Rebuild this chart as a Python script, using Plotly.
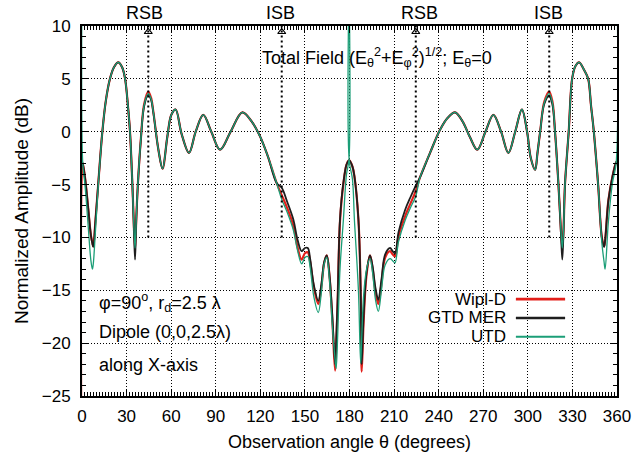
import plotly.graph_objects as go

# ---------------- data ----------------
theta = [0, 0.5, 2, 4, 6, 7.0, 7.6, 9.0, 11.0, 13.7, 16.0, 18.8, 21.5, 24.4, 27.0, 29.0, 31.0, 32.3, 33.9,
         35.0, 35.7, 36.5, 37.5, 39.6, 41.8, 44.6, 46.5, 48.0, 51.4, 54.2, 57.4, 60.1, 63.0, 67.0, 72.0,
         76.5, 81.6, 87.0, 92.9, 100.0, 107.9, 114.0, 119.8, 125.0, 131.0, 134.4, 138.0, 142.2, 145.0,
         147.8, 150.0, 151.9, 153.5, 156.0, 159.0, 161.0, 163.0, 164.7, 166.5, 168.5, 170.3, 171.0, 172.0,
         173.6, 175.9, 178.0, 179.6, 179.7, 179.8, 182.0, 183.3, 186.0, 187.5, 188.2, 189.5, 191.5, 193.8,
         195.5, 197.5, 199.4, 201.5, 204.0, 207.3, 209.0, 210.6, 213.0, 217.4, 221.0, 224.6, 227.5, 234.2,
         241.0, 246.0, 251.0, 256.0, 261.0, 266.0, 271.5, 276.8, 282.0, 286.9, 291.5, 296.0, 299.5, 302.0,
         304.9, 306.5, 308.3, 311.0, 314.3, 316.5, 318.3, 320.6, 322.4, 323.2, 324.0, 325.0, 327.5, 329.8,
         332.0, 334.5, 338.0, 340.6, 342.5, 344.4, 347.3, 349.8, 351.3, 352.0, 354.2, 357.0, 359.4, 360.0]

gtd_mer = [-2.8, -3.0, -4.3, -7.0, -9.8, -10.6, -10.9, -8.5, -4.8, 0.0, 2.9, 5.0, 6.1, 6.56, 6.1, 5.0, 2.3, 0.0, -5.0,
           -9.5, -12.1, -8.5, -5.3, -0.75, 2.4, 3.5, 3.0, 1.8, -1.7, -3.5, -0.5, 1.6, 2.1, -0.2, -2.0,
           0.0, 1.6, 0.0, -1.7, 0.0, 1.83, 1.0, -0.44, -2.3, -4.86, -5.3, -6.6, -8.3, -10.2,
           -11.3, -11.0, -11.0, -12.0, -14.5, -16.0, -14.5, -12.3, -11.7, -13.5, -17.5, -22.0, -20.0, -16.0,
           -8.3, -4.8, -3.1, -2.7, -2.7, -2.7, -3.3, -4.2, -8.3, -15.0, -22.0, -17.5, -13.3, -11.7,
           -12.7, -14.8, -15.9, -14.0, -11.6, -11.0, -11.3, -11.5, -9.5, -7.4, -6.2, -5.1, -4.3, -2.0,
           0.2, 1.3, 1.83, 1.0, -0.5, -1.7, 0.0, 1.6, 0.0, -2.0, 0.0, 2.1, 0.0, -2.5,
           -3.6, -2.0, 0.0, 2.6, 3.4, 2.6, 0.0, -5.0, -10.0, -12.1, -9.5, -5.0, 0.0, 5.0,
           6.2, 6.56, 5.8, 5.0, 2.5, 0.0, -5.0, -10.0, -10.9, -10.3, -6.5, -4.2, -2.9, -2.8]

wipl_d = [-40.0, -3.0, -4.3, -7.0, -9.8, -10.5, -10.85, -8.5, -4.8, 0.0, 2.9, 5.0, 6.1, 6.56, 6.1, 5.0, 2.3, 0.0, -5.0,
          -9.3, -11.1, -8.3, -5.2, -0.7, 2.6, 3.8, 3.2, 1.9, -1.7, -3.5, -0.5, 1.6, 2.1, -0.2, -2.0,
          0.0, 1.6, 0.0, -1.7, 0.0, 1.83, 1.0, -0.44, -2.3, -4.86, -6.0, -7.2, -8.9, -10.9,
          -12.1, -11.5, -11.4, -12.3, -14.7, -16.3, -14.8, -12.4, -11.7, -13.6, -18.0, -22.6, -20.5, -16.2,
          -8.5, -4.9, -3.1, -2.7, -2.7, -2.7, -3.3, -4.2, -8.3, -15.0, -22.7, -18.0, -13.5, -11.7,
          -12.9, -15.2, -16.3, -14.4, -11.9, -11.3, -11.6, -11.8, -9.9, -8.0, -6.8, -5.6, -4.3, -2.0,
          0.2, 1.3, 1.83, 1.0, -0.5, -1.7, 0.0, 1.6, 0.0, -2.0, 0.0, 2.1, 0.0, -2.5,
          -3.6, -2.0, 0.0, 2.8, 3.8, 2.9, 0.0, -5.0, -9.6, -11.0, -9.3, -5.0, 0.0, 5.0,
          6.2, 6.56, 5.8, 5.0, 2.5, 0.0, -5.0, -10.0, -10.85, -10.3, -6.5, -4.2, -2.9, -2.8]

utd = [15.0, -3.0, -5.0, -8.6, -12.2, -13.0, -12.5, -9.5, -5.0, 0.0, 2.9, 5.0, 6.1, 6.56, 6.1, 5.0, 2.3, 0.0, -5.0,
       -9.3, -11.0, -8.3, -5.2, -0.7, 2.5, 3.6, 3.1, 1.85, -1.7, -3.5, -0.5, 1.6, 2.1, -0.2, -2.0,
       0.0, 1.6, 0.0, -1.7, 0.0, 1.83, 1.0, -0.44, -2.3, -4.86, -6.4, -7.6, -9.3, -11.2,
       -12.5, -11.9, -11.8, -12.8, -15.6, -17.1, -15.3, -12.5, -11.9, -14.0, -18.5, -21.5, -22.4, -19.5,
       -13.0, -8.3, -4.0, -2.7, 15.0, -2.7, -4.5, -8.3, -15.0, -21.9, -19.5, -15.5, -13.0, -12.0,
       -13.3, -15.9, -17.0, -15.0, -12.6, -12.0, -12.2, -12.4, -10.4, -8.4, -7.2, -6.1, -4.3, -2.0,
       0.2, 1.3, 1.83, 1.0, -0.5, -1.7, 0.0, 1.6, 0.0, -2.0, 0.0, 2.1, 0.0, -2.5,
       -3.6, -2.0, 0.0, 2.7, 3.6, 2.8, 0.0, -5.0, -9.6, -11.0, -9.3, -5.0, 0.0, 5.0,
       6.2, 6.56, 5.8, 5.0, 2.5, 0.0, -5.0, -10.5, -12.3, -13.0, -8.5, -4.8, -3.0, 15.0]

boundary_theta = [44.6, 134.4, 224.6, 314.4]
boundary_label_theta = [42.0, 133.6, 227.0, 313.6]
boundary_labels = ["RSB", "ISB", "RSB", "ISB"]
boundary_bottom_db = -10
boundary_top_db = 10

series_names = ["Wipl-D", "GTD MER", "UTD"]
series_values = [wipl_d, gtd_mer, utd]
series_colors = ["#e3201b", "#1e1e1e", "#1b9e77"]
series_widths = [2.2, 1.8, 1.3]

FONT = "Liberation Sans, Arial, Helvetica, sans-serif"

fig = go.Figure()
for name, vals, col, w in zip(series_names, series_values, series_colors, series_widths):
    fig.add_trace(go.Scatter(x=theta, y=vals, mode="lines", name=name,
                             line=dict(color=col, width=w, shape="spline", smoothing=1),
                             showlegend=False))

# arrow heads at the top of the shadow-boundary lines
fig.add_trace(go.Scatter(x=boundary_theta, y=[boundary_top_db - 0.55] * len(boundary_theta), mode="markers",
                         marker=dict(symbol="triangle-up-open", size=7, color="black", line=dict(width=1.1)),
                         showlegend=False, hoverinfo="skip", cliponaxis=False))

shapes = []
annotations = []
for th, lth, lab in zip(boundary_theta, boundary_label_theta, boundary_labels):
    shapes.append(dict(type="line", xref="x", yref="y", x0=th, x1=th, y0=boundary_bottom_db, y1=boundary_top_db,
                       line=dict(color="black", width=2, dash="2px,3px")))
    annotations.append(dict(x=lth, y=1.035, xref="x", yref="paper", text=lab, showarrow=False,
                            font=dict(family=FONT, size=18, color="black"), xanchor="center", yanchor="middle"))

annotations.append(dict(x=0.333, y=0.916, xref="paper", yref="paper", xanchor="left", yanchor="middle",
                        showarrow=False,
                        text="Total Field (E<sub>θ</sub><sup>2</sup>+E<sub>φ</sub><sup>2</sup>)<sup>1/2</sup>; E<sub>θ</sub>=0",
                        font=dict(family=FONT, size=18, color="black")))

left_texts = ["φ=90<sup>o</sup>, r<sub>d</sub>=2.5 λ", "Dipole (0,0,2.5λ)", "along X-axis"]
left_y = [0.254, 0.173, 0.084]
for t, yy in zip(left_texts, left_y):
    annotations.append(dict(x=0.028, y=yy, xref="paper", yref="paper", xanchor="left", yanchor="middle",
                            showarrow=False, text=t, font=dict(family=FONT, size=18, color="black")))

# legend (gnuplot style: text right-aligned, sample line to the right)
leg_y = [0.262, 0.211, 0.160]
for name, col, w, yy in zip(series_names, series_colors, series_widths, leg_y):
    annotations.append(dict(x=0.797, y=yy, xref="paper", yref="paper", xanchor="right", yanchor="middle",
                            showarrow=False, text=name, font=dict(family=FONT, size=17, color="black")))
    shapes.append(dict(type="line", xref="paper", yref="paper", x0=0.811, x1=0.903, y0=yy, y1=yy,
                       line=dict(color=col, width=w + 0.6)))

axis_common = dict(
    showline=True, linecolor="black", linewidth=2, mirror="allticks",
    ticks="inside", ticklen=7, tickwidth=1, tickcolor="black",
    showgrid=True, gridcolor="black", gridwidth=1, griddash="1px,2px",
    zeroline=False, automargin=False,
    tickfont=dict(family=FONT, size=17, color="black"),
)

fig.update_layout(
    width=633, height=455,
    margin=dict(l=82, r=16, t=26, b=59),
    paper_bgcolor="white", plot_bgcolor="white",
    font=dict(family=FONT, color="black"),
    shapes=shapes, annotations=annotations,
    xaxis=dict(range=[0, 360], tick0=0, dtick=30,
               minor=dict(dtick=2, ticklen=4, ticks="inside", tickcolor="black", showgrid=False),
               ticklabelstandoff=4,
               title=dict(text="Observation angle θ (degrees)", font=dict(family=FONT, size=18, color="black"),
                          standoff=10),
               **axis_common),
    yaxis=dict(range=[-25, 10], tick0=-25, dtick=5,
               minor=dict(dtick=1, ticklen=4, ticks="inside", tickcolor="black", showgrid=False),
               ticklabelstandoff=6,
               title=dict(text="Normalized Amplitude (dB)", font=dict(family=FONT, size=19, color="black"),
                          standoff=8),
               **axis_common),
)

# remove the browser's default 8px body margin so the figure fills the window exactly
fig.write_html("out.html", config={"displayModeBar": False},
               post_script="document.body.style.margin='0';document.body.style.overflow='hidden';")
